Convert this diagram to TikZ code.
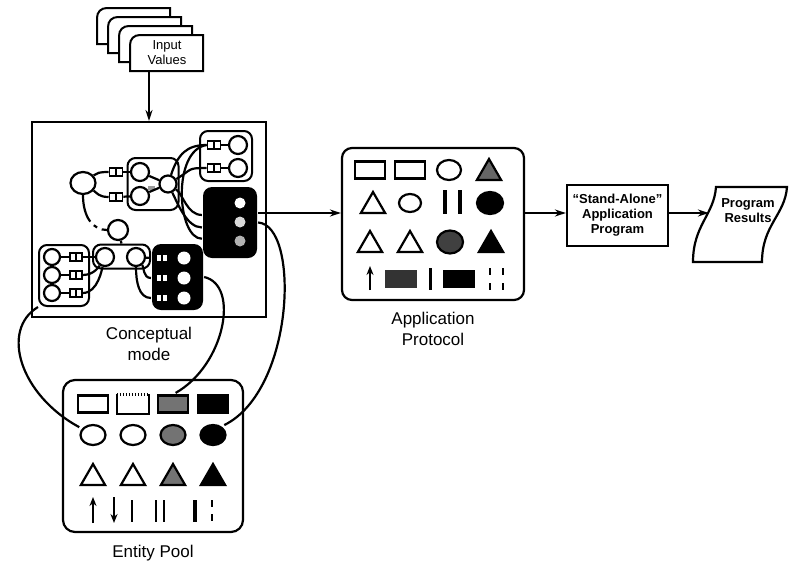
\documentclass[tikz,border=0pt]{standalone}
\usepackage{fontspec}
\setmainfont{Liberation Sans}
\usetikzlibrary{shapes.geometric,arrows.meta,positioning}

\begin{document}
\begin{tikzpicture}[x=1pt, y=-1pt, line width=2.2pt, >={Stealth[length=11pt,width=7pt]},
    lbl/.style={font=\fontsize{17}{21}\selectfont, align=center},
    boxtxt/.style={font=\bfseries\fontsize{13}{15}\selectfont, align=center},
    ent/.style={draw, circle, fill=white, minimum size=18pt, inner sep=0pt},
    lnk/.style={draw, fill=white, minimum width=13pt, minimum height=8pt, inner sep=0pt, line width=1.6pt,
        path picture={\draw[line width=1.6pt] (path picture bounding box.north) -- (path picture bounding box.south);}},
    wlnk/.style={fill=white, minimum width=10pt, minimum height=6pt, inner sep=0pt,
        path picture={\fill[black] ([xshift=-1pt]path picture bounding box.north) rectangle ([xshift=1pt]path picture bounding box.south);}},
    grp/.style={draw, rounded corners=8pt, line width=2pt},
    blk/.style={fill=black, rounded corners=9pt},
    wdot/.style={circle, fill=white, minimum size=11pt, inner sep=0pt},
    icrect/.style={draw, minimum width=30pt, minimum height=17pt, inner sep=0pt},
    icell/.style={draw, ellipse, minimum width=25pt, minimum height=20pt, inner sep=0pt},
    ictri/.style={draw, regular polygon, regular polygon sides=3, minimum size=28pt, inner sep=0pt},
    ibar/.style={line width=2.8pt},
    ptr/.style={->, line width=2.2pt, >={Stealth[length=9pt,width=7pt]}}]
    \useasboundingbox (0,0) rectangle (789,565);

    % input values
    \foreach \cx/\cy in {97/8, 108/17, 119/26, 130/35}
        \draw[fill=white, line width=2pt] ({\cx},{\cy+36}) -- ({\cx},{\cy+10}) .. controls ({\cx},{\cy+4}) and ({\cx+4},{\cy}) .. ({\cx+10},{\cy}) -- ({\cx+73},{\cy}) -- ({\cx+73},{\cy+36}) -- cycle;
    \node[font=\fontsize{13}{15}\selectfont, align=center, minimum width=73pt, minimum height=36pt, inner sep=0pt] (input) at (167,53) {Input\\Values};

    % conceptual model
    \node[draw, line width=2pt, minimum width=234pt, minimum height=195pt] (concept) at (149,219.5) {};
    \node[lbl, below=5pt of concept] (conceptlbl) {Conceptual\\mode};
    \draw[->] (input.south -| concept.north) -- (concept.north);

    \node[grp, minimum width=51pt, minimum height=52pt] (gmid) at (153,184) {};
    \node[grp, minimum width=52pt, minimum height=50pt] (gtr) at (226,156) {};
    \node[grp, minimum width=50pt, minimum height=61pt] (gbl) at (64,275.5) {};
    \node[grp, minimum width=57pt, minimum height=24pt] (gbm) at (121.5,256.5) {};
    \node[blk, minimum width=54pt, minimum height=71pt] (btr) at (230,222.5) {};
    \node[blk, minimum width=51pt, minimum height=66pt] (bbm) at (177.5,277) {};

    \node[ent, ellipse, minimum width=25pt, minimum height=22pt] (root) at (83,183) {};
    \node[lnk] (l1) at (116,172) {};
    \node[lnk] (l2) at (116,197) {};
    \node[ent] (m1) at (140,172) {};
    \node[ent] (m2) at (140,196) {};
    \node[ent, minimum size=17pt] (m3) at (168,184) {};
    \fill[black!40] (148,186) rectangle (155,190);
    \node[lnk] (t1) at (214,145) {};
    \node[lnk] (t2) at (214,168) {};
    \node[ent] (tc1) at (238,145) {};
    \node[ent] (tc2) at (238,168) {};
    \node[wdot] (bd1) at (240,203) {};
    \node[wdot, fill=black!15] (bd2) at (240,222) {};
    \node[wdot, fill=black!30] (bd3) at (240,241) {};
    \foreach \i/\yy in {1/257, 2/275, 3/293} {
        \node[ent, minimum size=16pt] (bc\i) at (52,\yy) {};
        \node[lnk, minimum width=12pt] (bl\i) at (76,\yy) {};
        \draw (bc\i) -- (bl\i);
    }
    \node[ent] (bm1) at (105,257) {};
    \node[ent] (bm2) at (136,257) {};
    \node[ent, minimum size=20pt] (cm) at (118,230) {};
    \foreach \i/\yy in {1/258, 2/278, 3/298} {
        \node[wlnk] (bbl\i) at (162,\yy) {};
        \node[wdot, minimum size=13pt] (bbd\i) at (184,\yy) {};
    }

    \draw (root) .. controls +(14,-10) and +(-10,0) .. (l1.west);
    \draw (root) .. controls +(14,10) and +(-10,0) .. (l2.west);
    \draw (l1) -- (m1);
    \draw (l2) -- (m2);
    \draw (m1) -- (m3);
    \draw (m2) -- (m3);
    \draw (m3) .. controls +(10,-30) and +(-20,0) .. (t1.west);
    \draw (m3) .. controls +(25,-15) and +(-20,0) .. (t2.west);
    \draw (t1) -- (tc1);
    \draw (t2) -- (tc2);
    \draw (m3) .. controls +(15,10) and +(-15,0) .. (btr.165);
    \draw (m3) .. controls +(10,20) and +(-15,0) .. (btr.190);
    \draw (t1.west) .. controls +(-35,5) and +(-25,0) .. (btr.210);
    \draw[dash pattern=on 28pt off 5pt on 4pt off 5pt] (root.south) .. controls +(0,22) and +(-14,0) .. (cm.west);
    \draw (cm) -- (gbm.north);
    \draw (bl1) -- (bm1);
    \draw (bl2.east) .. controls +(12,0) and +(-5,8) .. (bm1);
    \draw (bl3.east) .. controls +(15,0) and +(-3,12) .. (bm1);
    \draw (bm2) -- (bbm.west |- bbl1);
    \draw (bm2) .. controls +(8,10) and +(-8,0) .. (bbm.west |- bbl2);
    \draw (bm2) .. controls +(0,25) and +(-12,0) .. (bbm.west |- bbl3);

    % application protocol
    \node[draw, rounded corners=10pt, minimum width=182pt, minimum height=152pt] (app) at (433,224) {};
    \node[lbl, below=7pt of app] (applbl) {Application\\Protocol};
    \node[icrect] (ar1) at (370,170) {};
    \node[icrect] (ar2) at (410,170) {};
    \node[icell, minimum width=24pt] (ae1) at (449,170) {};
    \node[ictri, fill=black!60] (at1) at (489,173) {};
    \node[ictri] (at2) at (373,206) {};
    \node[icell, minimum width=22pt, minimum height=18pt] (ae2) at (410,203) {};
    \draw[ibar, line width=3.2pt] (445,190) -- (445,214);
    \draw[ibar, line width=3.2pt] (460,190) -- (460,214);
    \node[icell, fill=black, minimum width=26pt, minimum height=22pt] (ae3) at (490,203) {};
    \node[ictri] (at3) at (370,245) {};
    \node[ictri] (at4) at (410,245) {};
    \node[icell, fill=black!75, minimum width=26pt, minimum height=23pt] (ae4) at (450,242) {};
    \node[ictri, fill=black] (at5) at (491,245) {};
    \draw[ptr] (370,290) -- (370,266);
    \node[icrect, draw=none, fill=black!80, minimum width=32pt, minimum height=18pt] (ar3) at (401,279) {};
    \draw[ibar, line width=3pt] (430,268) -- (430,290);
    \node[icrect, draw=none, fill=black, minimum width=32pt, minimum height=18pt] (ar4) at (459,279) {};
    \draw[ibar, dash pattern=on 7pt off 8pt] (490,268) -- (490,290);
    \draw[ibar, dash pattern=on 7pt off 8pt] (503,268) -- (503,290);

    % stand-alone program and results
    \node[draw, boxtxt, minimum width=101pt, minimum height=61pt, inner sep=1pt] (standalone) at (617.5,215.5) {“Stand-Alone”\\Application\\Program};
    \draw[fill=white] (716,187) -- (787,187) .. controls (785,215) and (762,225) .. (762,262) -- (693,262) .. controls (693,225) and (714,215) .. (716,187) -- cycle;
    \node[boxtxt, minimum width=76pt] (results) at (748,211) {Program\\Results};

    \coordinate (flow) at (0,213);
    \draw[->] (btr.east |- flow) -- (app.west |- flow);
    \draw[->] (app.east |- flow) -- (standalone.west |- flow);
    \draw[->] (standalone.east |- flow) -- (results.west |- flow);

    % entity pool
    \node[draw, rounded corners=12pt, minimum width=180pt, minimum height=152pt] (pool) at (153,456) {};
    \node[lbl, below=8pt of pool] (poollbl) {Entity Pool};
    \node[icrect] (er1) at (93,404) {};
    \node[icrect, draw=none] (er2) at (133,404) {};
    \draw (er2.north west) -- (er2.south west) -- (er2.south east) -- (er2.north east);
    \draw[dash pattern=on 1.5pt off 1.5pt] (er2.north west) -- (er2.north east);
    \node[icrect, fill=black!55] (er3) at (173,404) {};
    \node[icrect, fill=black] (er4) at (213,404) {};
    \node[icell] (ee1) at (93,435) {};
    \node[icell] (ee2) at (133,435) {};
    \node[icell, fill=black!55] (ee3) at (173,435) {};
    \node[icell, fill=black] (ee4) at (213,435) {};
    \node[ictri] (et1) at (93,478) {};
    \node[ictri] (et2) at (133,478) {};
    \node[ictri, fill=black!55] (et3) at (173,478) {};
    \node[ictri, fill=black] (et4) at (213,478) {};
    \draw[ptr] (93,523) -- (93,497);
    \draw[ptr] (114,497) -- (114,523);
    \draw[ibar] (132,500) -- (132,522);
    \draw[ibar] (156,500) -- (156,522);
    \draw[ibar] (164,500) -- (164,522);
    \draw[ibar, line width=4pt] (195,500) -- (195,522);
    \draw[ibar, dash pattern=on 7pt off 7pt] (212,500) -- (212,522);

    % links into the pool
    \draw[shorten >=3pt] (gbl.south west) .. controls (0,330) and (20,395) .. (ee1.150);
    \draw[shorten >=3pt] (bbm.east) .. controls (240,285) and (225,365) .. (er3.north);
    \draw[shorten >=3pt] (btr.east) .. controls (300,225) and (295,390) .. (ee4.45);
\end{tikzpicture}
\end{document}
